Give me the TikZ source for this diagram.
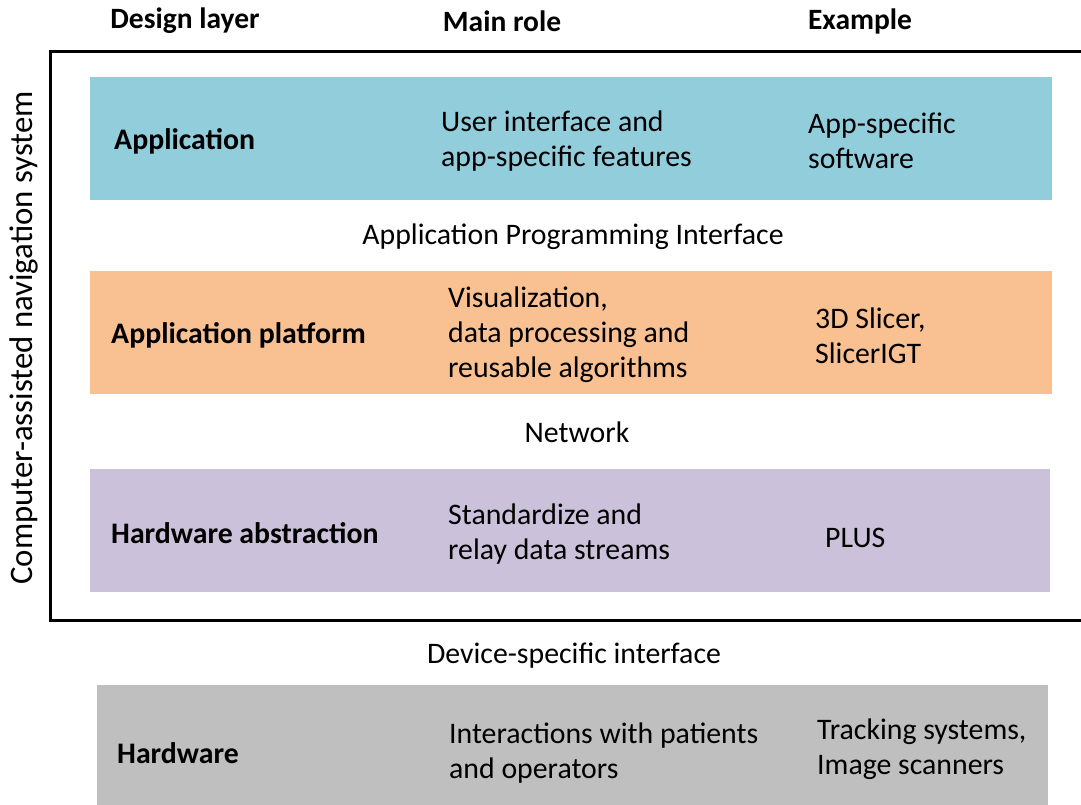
\documentclass[tikz,border=0pt]{standalone}
\usepackage{fontspec}
\setmainfont{Carlito}
\begin{document}
\begin{tikzpicture}[x=1pt,y=-1pt,
  txt/.style={anchor=west,align=left,inner sep=0pt,font=\fontsize{29.8}{35}\selectfont},
  ctxt/.style={anchor=center,inner sep=0pt,font=\fontsize{29.8}{35}\selectfont},
  bold/.style={anchor=west,inner sep=0pt,font=\fontsize{29.8}{35}\selectfont\bfseries},
  head/.style={anchor=center,inner sep=0pt,font=\fontsize{29.5}{35}\selectfont\bfseries},
  layer/.style={inner sep=0pt}]
\useasboundingbox (0,0) rectangle (1081,805);
% frame
\draw[line width=3pt] (1081,52) -- (50,52) -- (50,620) -- (1081,620);
% layers
\fill[fill={rgb,255:red,146;green,205;blue,220}] (90,77) rectangle (1052,200);
\fill[fill={rgb,255:red,249;green,192;blue,145}] (90,271) rectangle (1052,394);
\fill[fill={rgb,255:red,204;green,193;blue,218}] (90,469) rectangle (1050,592);
\fill[fill={rgb,255:red,191;green,191;blue,191}] (97,685) rectangle (1048,805);
% headers
\node[head] (h1) at (185,21) {Design layer};
\node[head] (h2) at (502,21) {Main role};
\node[head] (h3) at (860,21) {Example};
% rotated label
\node[ctxt,rotate=90,font=\fontsize{32.8}{35}\selectfont] (sys) at (24,338) {Computer-assisted navigation system};
% application
\node[bold] (a1) at (114,141) {Application};
\node[txt] (a2) at (441,141) {User interface and\\app-specific features};
\node[txt] (a3) at (808,141) {App-specific\\software};
\node[ctxt] (api) at (573,237) {Application Programming Interface};
% platform
\node[bold] (p1) at (111,335) {Application platform};
\node[txt] (p2) at (448,335) {Visualization,\\data processing and\\reusable algorithms};
\node[txt] (p3) at (815,336) {3D Slicer,\\SlicerIGT};
\node[ctxt] (net) at (577,432) {Network};
% hardware abstraction
\node[bold] (ha1) at (111,533) {Hardware abstraction};
\node[txt] (ha2) at (448,534) {Standardize and\\relay data streams};
\node[txt] (ha3) at (825,538) {PLUS};
\node[ctxt] (dev) at (574,656) {Device-specific interface};
% hardware
\node[bold] (hw1) at (117,753) {Hardware};
\node[txt] (hw2) at (449,753) {Interactions with patients\\and operators};
\node[txt] (hw3) at (817,749) {Tracking systems,\\Image scanners};
\end{tikzpicture}
\end{document}
